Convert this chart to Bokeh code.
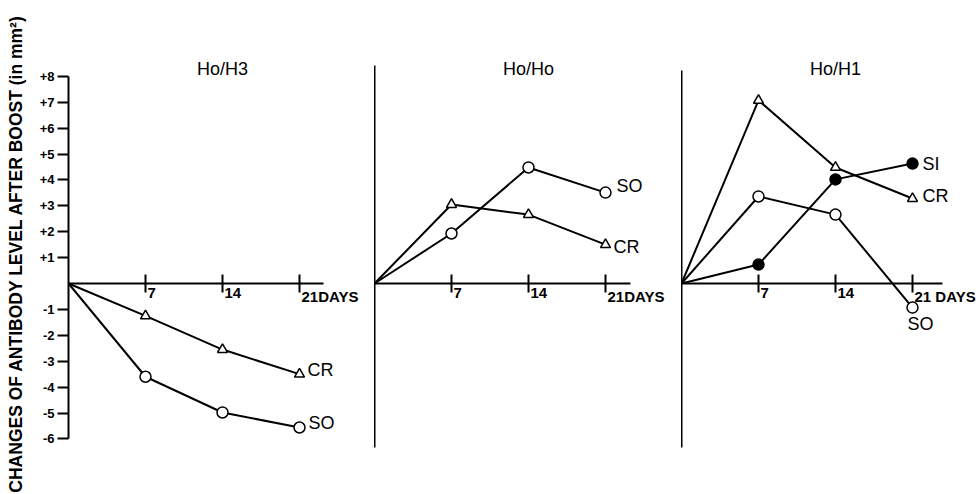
from bokeh.plotting import figure
from bokeh.layouts import row
from bokeh.models import Range1d, FixedTicker
from bokeh.core.properties import value
from bokeh.embed import file_html
from bokeh.resources import INLINE

# ---------------- data ----------------
days = [0, 7, 14, 21]
x_ticks = [7, 14, 21]
x_tick_labels = [["7", "14", "21DAYS"], ["7", "14", "21DAYS"], ["7", "14", "21 DAYS"]]
y_ticks = [-6, -5, -4, -3, -2, -1, 1, 2, 3, 4, 5, 6, 7, 8]
y_tick_labels = ["-6", "-5", "-4", "-3", "-2", "-1", "+1", "+2", "+3", "+4", "+5", "+6", "+7", "+8"]
titles = ["Ho/H3", "Ho/Ho", "Ho/H1"]
y_title = "CHANGES OF ANTIBODY LEVEL AFTER BOOST (in mm\u00b2)"

# Ho/H3
h3_cr = [0, -1.25, -2.55, -3.5]
h3_so = [0, -3.6, -4.98, -5.56]
# Ho/Ho
h0_so = [0, 1.93, 4.48, 3.51]
h0_cr = [0, 3.05, 2.66, 1.5]
# Ho/H1
h1_cr = [0, 7.07, 4.48, 3.28]
h1_so = [0, 3.36, 2.66, -0.93]
h1_si = [0, 0.73, 4.02, 4.63]

panels = [
    [("CR", h3_cr, "tri"), ("SO", h3_so, "open")],
    [("SO", h0_so, "open"), ("CR", h0_cr, "tri")],
    [("CR", h1_cr, "tri"), ("SO", h1_so, "open"), ("SI", h1_si, "fill")],
]
# label offsets (px) of the end labels
label_offsets = [
    [(8, -4), (9, -5)],
    [(11, -7), (8, 2)],
    [(10, -3), (-5, 16), (10, 0)],
]

# ---------------- layout constants ----------------
PX_DAY = 11.0
ZERO_Y = 283.0
PX_UNIT = 25.9
FRAME_TOP = 40.0
FRAME_BOT = 466.0
HEIGHT = 493
y_lo = (ZERO_Y - FRAME_BOT) / PX_UNIT
y_hi = (ZERO_Y - FRAME_TOP) / PX_UNIT

frame_widths = [306, 307, 297]
left_borders = [68, 0, 0]
xaxis_ends = [23.2, 23.3, 23.7]
vline_bounds = [(-6, 8), (-6.33, 8.42), (-6.33, 8.22)]
title_level = 8.3

FONT = "Liberation Sans"

figs = []
for i in range(3):
    p = figure(width=frame_widths[i] + left_borders[i], height=HEIGHT,
               x_range=Range1d(0, frame_widths[i] / PX_DAY),
               y_range=Range1d(y_lo, y_hi),
               output_backend="svg", toolbar_location=None,
               min_border_left=left_borders[i], min_border_right=0,
               min_border_top=int(FRAME_TOP), min_border_bottom=int(HEIGHT - FRAME_BOT))
    p.outline_line_color = None
    p.xgrid.visible = False
    p.ygrid.visible = False
    p.background_fill_color = "white"
    p.border_fill_color = "white"

    xa = p.xaxis[0]
    xa.fixed_location = 0
    xa.ticker = FixedTicker(ticks=x_ticks)
    xa.major_label_overrides = {t: "" for t in x_ticks}
    xa.bounds = (0, xaxis_ends[i])
    xa.major_tick_in = 9
    xa.major_tick_out = 9
    xa.minor_tick_in = 0
    xa.minor_tick_out = 0
    xa.axis_line_width = 2
    xa.major_tick_line_width = 2
    xa.major_label_standoff = 0

    ya = p.yaxis[0]
    ya.bounds = vline_bounds[i]
    ya.axis_line_width = 2
    ya.minor_tick_in = 0
    ya.minor_tick_out = 0
    if i == 0:
        ya.ticker = FixedTicker(ticks=y_ticks)
        ya.major_label_overrides = {t: l for t, l in zip(y_ticks, y_tick_labels)}
        ya.major_tick_in = 0
        ya.major_tick_out = 11
        ya.major_tick_line_width = 2
        ya.major_label_standoff = 3
        ya.major_label_text_font = FONT
        ya.major_label_text_font_size = "13px"
        ya.major_label_text_font_style = "bold"
        ya.major_label_text_color = "black"
        ya.axis_label = y_title
        ya.axis_label_text_font = FONT
        ya.axis_label_text_font_size = "17.5px"
        ya.axis_label_text_font_style = "bold"
        ya.axis_label_text_color = "black"
        ya.axis_label_standoff = 11
    else:
        ya.ticker = FixedTicker(ticks=[])
        ya.major_tick_in = 0
        ya.major_tick_out = 0
        ya.major_label_standoff = 0

    # x tick labels (left-aligned at the tick, below the axis)
    p.text(x=x_ticks, y=[0] * len(x_ticks), text=x_tick_labels[i],
           x_offset=2, y_offset=4, text_align="left", text_baseline="top",
           text_font=value(FONT), text_font_size="15px", text_font_style="bold",
           text_color="black")

    # title
    p.text(x=[x_ticks[1]], y=[title_level], text=[titles[i]],
           text_align="center", text_baseline="middle",
           text_font=value(FONT), text_font_size="18px", text_color="black")

    for (name, vals, kind), (dx, dy) in zip(panels[i], label_offsets[i]):
        p.line(days, vals, line_color="black", line_width=2)
        if kind == "tri":
            p.scatter(days[1:], vals[1:], marker="triangle", size=10,
                      fill_color="white", line_color="black", line_width=1.5)
        elif kind == "open":
            p.scatter(days[1:], vals[1:], marker="circle", size=11,
                      fill_color="white", line_color="black", line_width=1.5)
        else:
            p.scatter(days[1:], vals[1:], marker="circle", size=11,
                      fill_color="black", line_color="black", line_width=1.5)
        p.text(x=[days[-1]], y=[vals[-1]], text=[name], x_offset=dx, y_offset=dy,
               text_align="left", text_baseline="middle",
               text_font=value(FONT), text_font_size="18px", text_color="black")
    figs.append(p)

layout = row(*figs)
open("out.html", "w").write(file_html(layout, INLINE))
